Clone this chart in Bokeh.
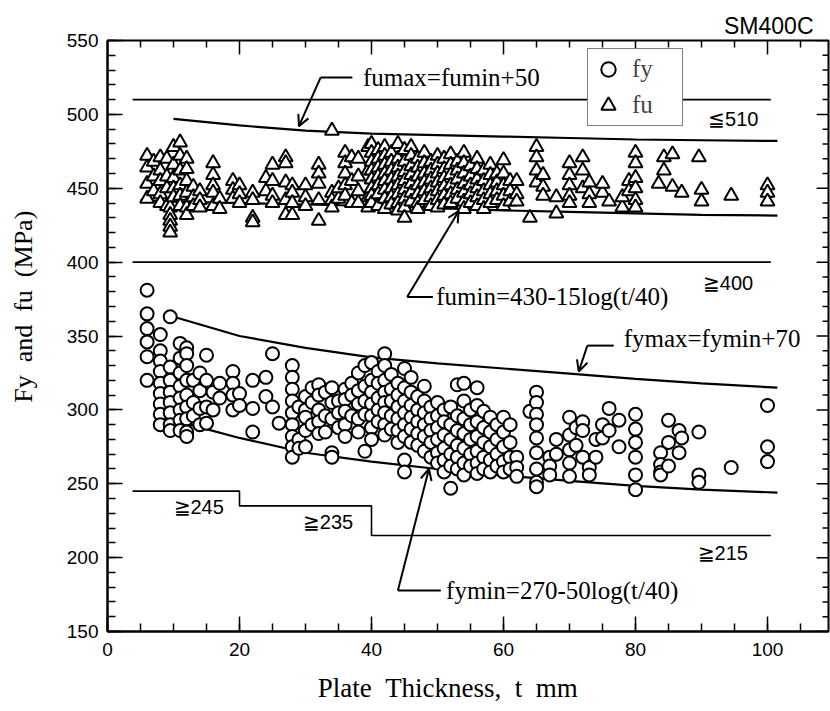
from bokeh.plotting import figure
from bokeh.models import (Range1d, SingleIntervalTicker, Label, Arrow,
                          OpenHead, Legend, LegendItem)
from bokeh.embed import file_html
from bokeh.resources import INLINE

# ---------------- data ----------------
# tensile strength fu (triangles): thickness columns and values (MPa)
fu_thick = [6, 7, 8, 9, 9.5, 10, 11, 12, 13, 14, 16, 17, 19, 20, 22, 24, 25, 27, 28, 30,
            32, 34, 35, 36, 37, 38, 39.5, 40, 41, 42, 43, 44, 45, 46, 47, 48, 49, 50,
            51, 52, 53, 54, 55, 56, 57, 58, 59, 60, 61, 62, 64, 65, 66, 68, 70, 72, 73,
            75, 76, 78, 79, 80, 83.5, 84.3, 85.6, 87, 89.6, 90, 94.5, 100]
fu_vals = [
    [472, 464, 453, 443], [468, 458, 448], [471, 462, 455, 446, 440],
    [470, 458, 450, 438], [437, 432, 428, 424, 420], [478, 466, 457, 450, 444],
    [481, 472, 462, 452, 445, 438], [470, 463, 455, 447, 437, 432], [451, 444, 438],
    [448, 442, 437], [467, 459, 452, 447, 438], [443, 436], [455, 449, 443],
    [452, 446, 440], [447, 442, 430, 427], [457, 448], [466, 455, 445, 440],
    [471, 467, 454, 442, 432], [452, 447, 440, 432], [452, 444, 438],
    [466, 460, 453, 442, 428], [489, 447, 442, 437], [443, 450],
    [474, 467, 460, 452, 445], [471, 455, 440], [470, 458, 448, 440],
    [478, 462, 444, 437],
    [480, 474, 468, 462, 456, 450, 445, 440], [476, 470, 464, 458, 452, 446, 438],
    [478, 472, 466, 460, 455, 449, 443, 436], [474, 468, 462, 456, 450, 444, 439],
    [480, 470, 464, 458, 452, 446, 440, 435], [476, 468, 461, 455, 449, 443, 437, 430],
    [478, 472, 465, 459, 453, 447, 441], [470, 464, 458, 452, 446, 440, 436],
    [474, 467, 460, 454, 448, 442], [468, 462, 456, 450, 444, 438],
    [472, 466, 460, 454, 448, 442, 437], [470, 463, 457, 451, 445, 439],
    [473, 466, 459, 452, 446, 440], [468, 462, 456, 449, 443],
    [474, 467, 460, 453, 447, 441, 436], [465, 458, 452, 446, 440],
    [470, 463, 456, 450, 444, 438], [462, 455, 448, 442, 436],
    [466, 459, 452, 446, 440], [460, 454, 448, 442], [469, 460, 452, 445, 438],
    [455, 448, 441], [455, 446, 441], [430], [478, 471, 462, 454], [459, 451, 445],
    [433, 444], [467, 459, 452, 445, 440], [471, 462, 450], [454, 446, 440],
    [447, 453], [441], [437, 444], [455, 448], [474, 467, 457, 450, 442, 437],
    [453], [471, 462], [473, 451], [447], [471], [449, 441], [445], [452, 447, 441]]

# yield strength fy (circles)
fy_thick = [6, 8, 9.5, 11, 12, 13, 14, 15, 16, 17, 19, 20, 22, 24, 25, 26, 28, 29, 30,
            31, 32, 33, 34, 35, 36, 37, 38, 39, 40, 41, 42, 43, 44, 45, 46, 47, 48, 49,
            50, 51, 52, 53, 54, 55, 56, 57, 58, 59, 60, 61, 62, 64, 65, 67, 68, 70, 71,
            72, 73, 74, 75, 76, 77.5, 80, 83.8, 85, 86.6, 87, 89.6, 94.5, 100]
fy_vals = [
    [381, 365, 355, 346, 336, 320], [351, 340, 333, 326, 318, 311, 304, 297, 290],
    [363, 329, 320, 312, 305, 298, 290, 286], [345, 335, 325, 316, 308, 300, 293, 286],
    [342, 338, 330, 320, 310, 302, 294, 285, 282], [320, 305, 296], [325, 313, 301, 290],
    [337, 320, 302, 291], [312, 300], [318, 308], [326, 318, 310, 300], [311, 303],
    [320, 301, 285], [322, 309], [338, 302], [291],
    [330, 322, 314, 306, 298, 290, 282, 275, 268], [302, 280, 274],
    [309, 300, 295, 286, 275], [315, 305, 290], [317, 310, 300, 292, 284],
    [312, 296, 285], [315, 305, 294, 271, 268], [306, 298, 288],
    [314, 307, 299, 290, 282], [318, 310, 296], [325, 313, 304, 294, 285],
    [330, 316, 306, 297, 272], [332, 320, 312, 304, 296, 288, 280],
    [326, 318, 308, 300, 292], [338, 330, 320, 312, 305, 298, 290, 283],
    [324, 314, 306, 296, 287], [318, 310, 302, 294, 286, 278],
    [328, 315, 306, 298, 290, 282, 266, 258], [322, 312, 303, 295, 287, 278],
    [309, 300, 292, 284, 276], [316, 306, 298, 290, 282, 272],
    [302, 294, 286, 278, 268], [305, 296, 288, 280, 271, 264],
    [300, 292, 283, 274, 266, 258], [302, 290, 280, 270, 262, 247],
    [317, 296, 286, 276, 268, 260], [318, 306, 294, 284, 274, 264, 256],
    [300, 290, 280, 270, 262], [315, 303, 292, 282, 272, 264, 257],
    [299, 288, 278, 268, 260], [295, 285, 275, 266, 258], [290, 280, 270, 262],
    [295, 285, 275, 265, 258], [290, 278, 268, 260], [268, 261, 255], [299],
    [312, 305, 297, 290, 281, 271, 260, 251, 248], [268, 262, 256], [280, 270],
    [295, 283, 273, 264, 255], [288, 276], [292, 286, 268], [261, 256], [268, 280],
    [281, 290], [301, 286], [293, 275], [297, 287, 278, 268, 256, 246],
    [271, 263, 258, 256], [293, 278, 262], [286, 271], [281], [285, 256, 251], [261],
    [303, 275, 265]]

# guide curves
fumax_t = [10, 20, 30, 40, 50, 60, 70, 80, 90, 101.5]
fumax_v = [497, 492.5, 489, 487, 486, 485, 484, 483, 482.5, 482]
fumin_t = [5, 10, 20, 30, 40, 50, 60, 70, 80, 90, 101.5]
fumin_v = [442, 441, 440, 439, 438, 436.5, 435, 434, 433, 432, 431.5]
fymax_t = [10, 20, 30, 40, 50, 60, 70, 80, 90, 101.5]
fymax_v = [363, 350, 342, 335.5, 331.5, 328, 324.5, 321, 318, 315]
fymin_t = [8, 10, 15, 20, 30, 40, 50, 60, 70, 80, 90, 101.5]
fymin_v = [296, 293, 287, 281, 271, 265, 260, 255.5, 252, 248.5, 246, 244]

# specification limits
spec_t = [3.8, 100.5]
fu_upper = 510
fu_lower = 400
fy_step_t = [3.8, 20, 20, 40, 40, 100.5]
fy_step_v = [245, 245, 235, 235, 215, 215]

# axis ranges and tick values
x_start, x_end = 0, 109.24
y_start, y_end = 150, 550
x_major = [0, 20, 40, 60, 80, 100]
x_minor = [5, 10, 15, 25, 30, 35, 45, 50, 55, 65, 70, 75, 85, 90, 95, 105]
y_major = [150, 200, 250, 300, 350, 400, 450, 500, 550]
y_minor = [v for v in range(160, 550, 10) if v % 50 != 0]

fu_x = [t for t, vs in zip(fu_thick, fu_vals) for _ in vs]
fu_y = [v for vs in fu_vals for v in vs]
fy_x = [t for t, vs in zip(fy_thick, fy_vals) for _ in vs]
fy_y = [v for vs in fy_vals for v in vs]

SERIF = "Liberation Serif"
SANS = "Liberation Sans"
NB = "\u00a0"

p = figure(width=830, height=711, x_range=Range1d(x_start, x_end),
           y_range=Range1d(y_start, y_end),
           output_backend="svg", toolbar_location=None,
           min_border_left=107, min_border_top=40, min_border_bottom=80, min_border_right=2)
p.xgrid.visible = False
p.ygrid.visible = False
p.outline_line_color = "black"
p.outline_line_width = 2
p.background_fill_color = "white"
p.border_fill_color = "white"

p.title.text = "SM400C"
p.title.align = "right"
p.title.offset = 15
p.title.standoff = 3
p.title.text_font = SANS
p.title.text_font_size = "23px"
p.title.text_font_style = "normal"
p.title.text_color = "black"

p.xaxis.ticker = SingleIntervalTicker(interval=20, num_minor_ticks=4)
p.yaxis.ticker = SingleIntervalTicker(interval=50, num_minor_ticks=5)

for ax in (p.xaxis[0], p.yaxis[0]):
    ax.major_tick_in = 15
    ax.major_tick_out = 0
    ax.minor_tick_in = 8
    ax.minor_tick_out = 0
    ax.axis_line_width = 2
    ax.major_tick_line_width = 1.5
    ax.minor_tick_line_width = 1.5
    ax.major_label_text_font = SANS
    ax.major_label_text_font_size = "19px"
    ax.major_label_text_color = "black"
    ax.axis_label_text_font = SERIF
    ax.axis_label_text_font_style = "normal"
    ax.axis_label_text_color = "black"
p.yaxis.major_label_standoff = 9
p.xaxis.major_label_standoff = 11

p.xaxis.axis_label = "Plate" + NB * 2 + "Thickness," + NB * 2 + "t" + NB * 2 + "mm" + NB * 6
p.xaxis.axis_label_text_font_size = "27px"
p.xaxis.axis_label_standoff = 14
p.yaxis.axis_label = NB * 9 + "Fy" + NB * 2 + "and" + NB * 2 + "fu" + NB * 2 + "(MPa)"
p.yaxis.axis_label_text_font_size = "26px"
p.yaxis.axis_label_standoff = 26

# tick marks on the top and right frame edges
top_major_len = 9.5
top_minor_len = 4.7
right_major_len = 1.8
right_minor_len = 0.9
p.segment(x_major, [y_end] * len(x_major), x_major,
          [y_end - top_major_len] * len(x_major), line_color="black", line_width=1.5)
p.segment(x_minor, [y_end] * len(x_minor), x_minor,
          [y_end - top_minor_len] * len(x_minor), line_color="black", line_width=1.5)
p.segment([x_end] * len(y_major), y_major, [x_end - right_major_len] * len(y_major),
          y_major, line_color="black", line_width=1.5)
p.segment([x_end] * len(y_minor), y_minor, [x_end - right_minor_len] * len(y_minor),
          y_minor, line_color="black", line_width=1.5)

# spec lines
p.line(spec_t, [fu_upper, fu_upper], line_color="black", line_width=1.6)
p.line(spec_t, [fu_lower, fu_lower], line_color="black", line_width=1.6)
p.line(fy_step_t, fy_step_v, line_color="black", line_width=1.6)

# curves
for tt, vv in ((fumax_t, fumax_v), (fumin_t, fumin_v), (fymax_t, fymax_v), (fymin_t, fymin_v)):
    p.line(tt, vv, line_color="black", line_width=2.2)

r_fu = p.scatter(fu_x, fu_y, marker="triangle", size=14, fill_color="white",
                 line_color="black", line_width=2)
r_fy = p.scatter(fy_x, fy_y, marker="circle", size=13, fill_color="white",
                 line_color="black", line_width=2)

legend = Legend(items=[LegendItem(label="fy", renderers=[r_fy]),
                       LegendItem(label="fu", renderers=[r_fu])],
                location=(480, 505), padding=2, spacing=0, margin=0,
                glyph_width=36, glyph_height=36, label_height=36, label_width=48,
                label_standoff=6, label_text_font=SERIF, label_text_font_size="25px",
                border_line_color="black", border_line_width=1.5,
                background_fill_color="white", background_fill_alpha=1.0)
p.add_layout(legend, "center")

# annotations
ann_font = dict(text_font=SERIF, text_font_size="25px", text_color="black",
                text_baseline="middle")

# leader lines [corner, end] and arrow tips
fumax_lead_t = [32.3, 37.1]; fumax_lead_v = [525, 525]; fumax_tip = (29.0, 492.0)
fumin_lead_t = [45.4, 49.3]; fumin_lead_v = [376.4, 376.4]; fumin_tip = (53.2, 434.5)
fymax_lead_t = [72.7, 76.7]; fymax_lead_v = [343.5, 343.5]; fymax_tip = (71.4, 326.0)
fymin_lead_t = [44.0, 50.5]; fymin_lead_v = [177.8, 177.8]; fymin_tip = (48.7, 260.0)

for lt, lv, tip in ((fumax_lead_t, fumax_lead_v, fumax_tip),
                    (fumin_lead_t, fumin_lead_v, fumin_tip),
                    (fymax_lead_t, fymax_lead_v, fymax_tip),
                    (fymin_lead_t, fymin_lead_v, fymin_tip)):
    p.line(lt, lv, line_color="black", line_width=2)
    p.add_layout(Arrow(end=OpenHead(size=11, line_width=2, line_color="black"),
                       x_start=lt[0], y_start=lv[0], x_end=tip[0], y_end=tip[1],
                       line_color="black", line_width=2))

p.add_layout(Label(x=38.7, y=525, text="fumax=fumin+50", **ann_font))
p.add_layout(Label(x=49.8, y=376.4, text="fumin=430-15log(t/40)", **ann_font))
p.add_layout(Label(x=78.2, y=348.2, text="fymax=fymin+70", **ann_font))
p.add_layout(Label(x=51.3, y=177.8, text="fymin=270-50log(t/40)", **ann_font))

spec_font = dict(text_font=SANS, text_font_size="20px", text_color="black",
                 text_baseline="middle")
p.add_layout(Label(x=91.0, y=497, text="≦510", **spec_font))
p.add_layout(Label(x=90.2, y=386, text="≧400", **spec_font))
p.add_layout(Label(x=10.0, y=234, text="≧245", **spec_font))
p.add_layout(Label(x=29.6, y=224, text="≧235", **spec_font))
p.add_layout(Label(x=89.4, y=203, text="≧215", **spec_font))

open("out.html", "w").write(file_html(p, INLINE))
